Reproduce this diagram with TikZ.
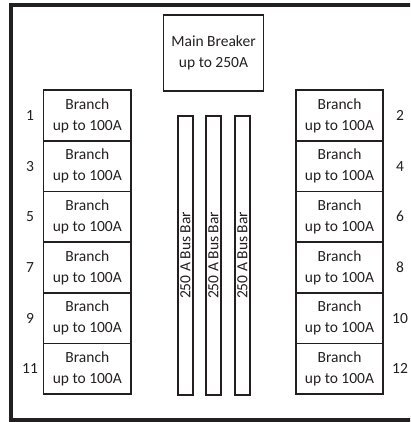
\documentclass[tikz,border=0pt]{standalone}
\usepackage{fontspec}
\setmainfont{Carlito}
\definecolor{panelink}{HTML}{231F20}

\begin{document}
\begin{tikzpicture}[x=1pt,y=-1pt,
    every node/.style={font=\fontsize{15.5pt}{21pt}\selectfont, text=panelink},
    breaker/.style={draw=panelink, line width=1.8pt, align=center, inner sep=0pt, minimum width=87.5pt, minimum height=50.7pt},
    mainbreaker/.style={breaker, minimum width=100pt, minimum height=76pt},
    busbar/.style={draw=panelink, line width=1.8pt, rotate=90, inner sep=0pt, minimum width=279pt, minimum height=15pt},
    slotnum/.style={inner sep=0pt}]
    \clip (0,0) rectangle (410,422);
    % panel enclosure, runs off to the right
    \draw[panelink, line width=3.3pt] (11,5) rectangle (440,420);

    \node[mainbreaker] (main) at (213.5,53) {Main Breaker\\up to 250A};

    % bus bars
    \foreach \bx [count=\b] in {185.5,213.5,242.5}
        \node[busbar] (bus\b) at (\bx,255.5) {250 A Bus Bar};

    % branch breakers, odd on the left, even on the right
    \foreach \r in {0,...,5}{
        \pgfmathsetmacro{\ry}{115.4+50.7*\r}
        \pgfmathtruncatemacro{\odd}{2*\r+1}
        \pgfmathtruncatemacro{\even}{2*\r+2}
        \node[breaker] (left\odd) at (87.3,\ry) {Branch\\up to 100A};
        \node[breaker] (right\even) at (339.5,\ry) {Branch\\up to 100A};
        \node[slotnum] (num\odd) at (30,\ry) {\odd};
        \node[slotnum] (num\even) at (400,\ry) {\even};
    }
\end{tikzpicture}
\end{document}
